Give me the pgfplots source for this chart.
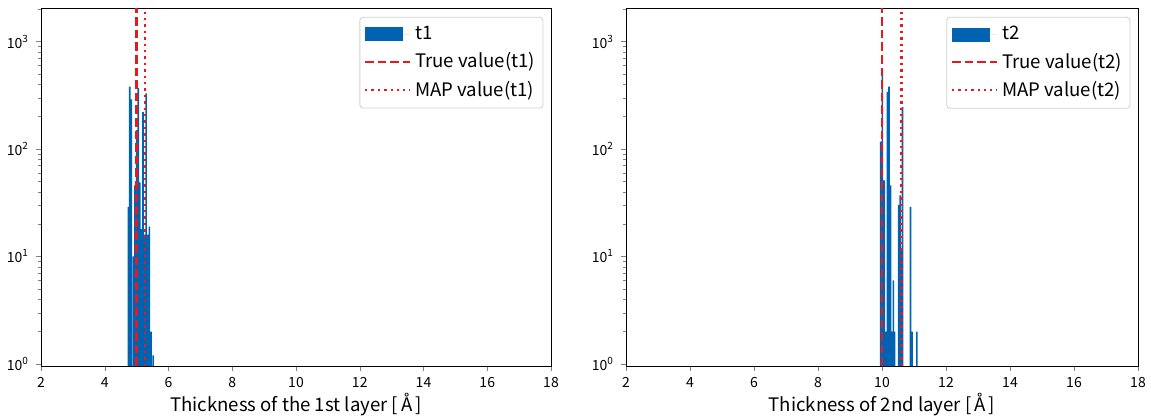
\documentclass[border=0pt]{standalone}
\usepackage{fontspec}
\setmainfont{Noto Sans CJK JP}
\usepackage{pgfplots}
\pgfplotsset{compat=1.18}
\definecolor{barblue}{HTML}{0063B1}
\definecolor{lred}{HTML}{E41A1C}
\tikzset{
  dashedred/.style={lred, line width=1.2pt, dash pattern=on 4.3pt off 2pt},
  dottedred/.style={lred, line width=1.2pt, dash pattern=on 1.2pt off 2pt},
}

\pgfplotstableread{
x y
4.74 29
4.785 380
4.83 290
4.90 10
4.95 46
5.00 150
5.05 370
5.10 49
5.15 18
5.20 220
5.25 16
5.30 330
5.35 16
5.40 19
5.45 2
5.52 1.2
}\tone

\pgfplotstableread{
x y
9.96 117
10.01 550
10.07 51
10.12 2
10.17 340
10.22 380
10.27 46
10.32 2
10.355 6
10.39 2
10.52 30
10.565 37
10.60 12
10.64 245
10.89 29
10.94 2
11.09 2
}\ttwo

\begin{document}
\begin{tikzpicture}
\useasboundingbox (0,0) rectangle (575.5pt,209pt);
\begin{axis}[
    scale only axis, height=179pt, width=255pt, at={(20.5pt,26pt)}, anchor=south west,
    xmin=2, xmax=18, ymode=log, ymin=0.958, ymax=2050,
    log origin=infty,
    xtick={2,4,...,18},
    ytick={1,10,100,1000},
    yticklabels={10\textsuperscript{0},10\textsuperscript{1},10\textsuperscript{2},10\textsuperscript{3}},
    minor ytick={2,3,4,5,6,7,8,9,20,30,40,50,60,70,80,90,200,300,400,500,600,700,800,900,2000},
    /pgf/number format/assume math mode=true,
    tick label style={font=\fontsize{7}{8}\selectfont},
    xticklabel style={yshift=0.5pt},
    xtick pos=left, ytick pos=left, tick align=outside,
    major tick length=2.5pt, minor tick length=1.5pt,
    axis line style={line width=0.45pt},
    xlabel style={font=\fontsize{9.3}{11}\selectfont, yshift=4pt},
    legend style={at={(0.985,0.975)}, anchor=north east,
      draw=black!18, rounded corners=1.5pt,
      font=\fontsize{9.3}{11}\selectfont,
      row sep=1pt, inner xsep=2pt, inner ysep=2.5pt},
    legend cell align=left,
    xlabel={Thickness of the 1st layer [\,Å\,]}]
\addplot[ybar, bar width=0.05, bar shift=0pt, fill=barblue, draw=none,
  legend image code/.code={\fill[barblue, sharp corners] (0pt,-3.5pt) rectangle (19pt,3.5pt);\path (19pt,0pt) -- (22.5pt,0pt);}] table[x=x,y=y] {\tone};
\addlegendentry{t1}
\addplot[dashedred,
  legend image code/.code={\draw[dashedred, sharp corners] (0pt,0pt) -- (19pt,0pt);\path (19pt,0pt) -- (22.5pt,0pt);}] coordinates {(5.0,0.958) (5.0,2050)};
\addlegendentry{True value(t1)}
\addplot[dottedred,
  legend image code/.code={\draw[dottedred, sharp corners] (0pt,0pt) -- (19pt,0pt);\path (19pt,0pt) -- (22.5pt,0pt);}] coordinates {(5.27,0.958) (5.27,2050)};
\addlegendentry{MAP value(t1)}
\end{axis}
\begin{axis}[
    scale only axis, height=179pt, width=256pt, at={(313pt,26pt)}, anchor=south west,
    xmin=2, xmax=18, ymode=log, ymin=0.958, ymax=2050,
    log origin=infty,
    xtick={2,4,...,18},
    ytick={1,10,100,1000},
    yticklabels={10\textsuperscript{0},10\textsuperscript{1},10\textsuperscript{2},10\textsuperscript{3}},
    minor ytick={2,3,4,5,6,7,8,9,20,30,40,50,60,70,80,90,200,300,400,500,600,700,800,900,2000},
    /pgf/number format/assume math mode=true,
    tick label style={font=\fontsize{7}{8}\selectfont},
    xticklabel style={yshift=0.5pt},
    xtick pos=left, ytick pos=left, tick align=outside,
    major tick length=2.5pt, minor tick length=1.5pt,
    axis line style={line width=0.45pt},
    xlabel style={font=\fontsize{9.3}{11}\selectfont, yshift=4pt},
    legend style={at={(0.985,0.975)}, anchor=north east,
      draw=black!18, rounded corners=1.5pt,
      font=\fontsize{9.3}{11}\selectfont,
      row sep=1pt, inner xsep=2pt, inner ysep=2.5pt},
    legend cell align=left,
    xlabel={Thickness of 2nd layer [\,Å\,]}]
\addplot[ybar, bar width=0.05, bar shift=0pt, fill=barblue, draw=none,
  legend image code/.code={\fill[barblue, sharp corners] (0pt,-3.5pt) rectangle (19pt,3.5pt);\path (19pt,0pt) -- (22.5pt,0pt);}] table[x=x,y=y] {\ttwo};
\addlegendentry{t2}
\addplot[dashedred,
  legend image code/.code={\draw[dashedred, sharp corners] (0pt,0pt) -- (19pt,0pt);\path (19pt,0pt) -- (22.5pt,0pt);}] coordinates {(10.0,0.958) (10.0,2050)};
\addlegendentry{True value(t2)}
\addplot[dottedred,
  legend image code/.code={\draw[dottedred, sharp corners] (0pt,0pt) -- (19pt,0pt);\path (19pt,0pt) -- (22.5pt,0pt);}] coordinates {(10.61,0.958) (10.61,2050)};
\addlegendentry{MAP value(t2)}
\end{axis}
\end{tikzpicture}
\end{document}
